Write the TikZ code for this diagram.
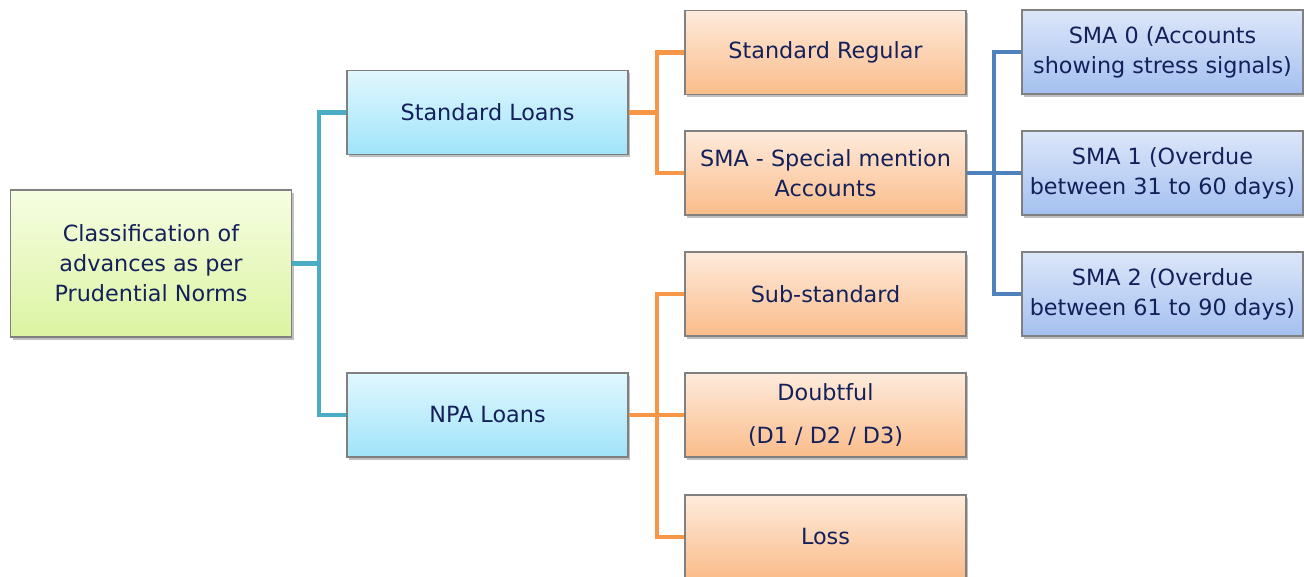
\documentclass[tikz,border=0pt]{standalone}
\usepackage{fontspec}
\setmainfont{DejaVu Sans}
\usetikzlibrary{shadows}

\definecolor{navytext}{RGB}{20,32,90}
\definecolor{tealline}{RGB}{75,172,198}
\definecolor{orangeline}{RGB}{247,150,70}
\definecolor{blueline}{RGB}{79,129,189}

\begin{document}
\begin{tikzpicture}[x=0.02cm, y=-0.02cm,
  box/.style={draw=black!50, line width=0.6pt, minimum width=281*0.02cm, minimum height=84*0.02cm,
    align=center, text=navytext, font=\fontsize{12.7}{17}\selectfont, inner sep=2pt,
    drop shadow={shadow xshift=1.4pt, shadow yshift=-1.6pt, opacity=0.5}},
  rootbox/.style={box, minimum height=147*0.02cm, top color={rgb,255:red,246;green,253;blue,226}, bottom color={rgb,255:red,220;green,244;blue,162}},
  loanbox/.style={box, top color={rgb,255:red,225;green,247;blue,254}, bottom color={rgb,255:red,160;green,228;blue,250}},
  classbox/.style={box, top color={rgb,255:red,254;green,235;blue,220}, bottom color={rgb,255:red,250;green,188;blue,138}},
  smabox/.style={box, top color={rgb,255:red,220;green,230;blue,249}, bottom color={rgb,255:red,164;green,192;blue,240}},
  link/.style={line width=2.3pt}]
 \useasboundingbox (0,0) rectangle (1304,577);

 \node[rootbox] (root) at (151,263.5) {Classification of\\advances as per\\Prudential Norms};

 \node[loanbox] (std) at (487.5,112.5) {Standard Loans};
 \node[loanbox] (npa) at (487.5,415) {NPA Loans};

 \node[classbox] (reg) at (825.5,52.5) {Standard Regular};
 \node[classbox] (sma) at (825.5,173) {SMA - Special mention\\Accounts};
 \node[classbox] (sub) at (825.5,294) {Sub-standard};
 \node[classbox, font=\fontsize{12.7}{24.4}\selectfont] (dbt) at (825.5,415) {Doubtful\\(D1 / D2 / D3)};
 \node[classbox] (loss) at (825.5,537) {Loss};

 \node[smabox] (sma0) at (1162.5,52) {SMA 0 (Accounts\\showing stress signals)};
 \node[smabox] (sma1) at (1162.5,173) {SMA 1 (Overdue\\between 31 to 60 days)};
 \node[smabox] (sma2) at (1162.5,294) {SMA 2 (Overdue\\between 61 to 90 days)};

 % branch points
 \coordinate (j1) at (319,263.5);
 \coordinate (j2) at (657,112.5);
 \coordinate (j3) at (657,415);
 \coordinate (j4) at (994,173);

 \draw[link, tealline] (root.east) -- (j1) |- (std.west);
 \draw[link, tealline] (j1) |- (npa.west);

 \draw[link, orangeline] (std.east) -- (j2) |- (reg.west);
 \draw[link, orangeline] (j2) |- (sma.west);

 \draw[link, orangeline] (npa.east) -- (j3) |- (sub.west);
 \draw[link, orangeline] (j3) |- (dbt.west);
 \draw[link, orangeline] (j3) |- (loss.west);

 \draw[link, blueline] (sma.east) -- (j4) |- (sma0.west);
 \draw[link, blueline] (j4) -- (sma1.west);
 \draw[link, blueline] (j4) |- (sma2.west);
\end{tikzpicture}
\end{document}
